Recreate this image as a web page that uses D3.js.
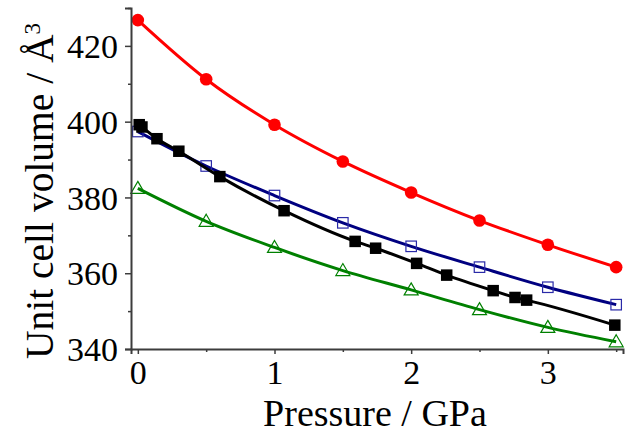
<!DOCTYPE html>
<html>
<head>
<meta charset="utf-8">
<script src="https://cdn.jsdelivr.net/npm/d3@7"></script>
<style>
  body { margin: 0; background: #fff; }
  svg { display: block; }
</style>
</head>
<body>
<div id="chart"></div>
<script>
// data (pressure in GPa, volume in Å^3)
const redP = [0, 0.5, 1, 1.5, 2, 2.5, 3, 3.5];
const redV = [426.8, 411.2, 399.2, 389.5, 381.3, 373.9, 367.5, 361.6];

const blueP = [0, 0.5, 1, 1.5, 2, 2.5, 3, 3.5];
const blueV = [397.4, 388.3, 380.5, 373.3, 367.1, 361.6, 356.3, 351.7];

const blackP = [0.01, 0.03, 0.14, 0.30, 0.60, 1.07, 1.59, 1.74, 2.04, 2.26, 2.60, 2.76, 2.845, 3.49];
const blackV = [399.2, 398.6, 395.5, 392.2, 385.5, 376.5, 368.4, 366.6, 362.6, 359.5, 355.4, 353.6, 352.9, 346.3];

const greenP = [0, 0.5, 1, 1.5, 2, 2.5, 3, 3.5];
const greenV = [382.4, 373.7, 366.8, 360.7, 355.6, 350.4, 345.7, 341.9];

const xTicks = [0, 1, 2, 3];
const xMinor = [0.5, 1.5, 2.5, 3.5];
const yTicks = [340, 360, 380, 400, 420];
const yMinor = [350, 370, 390, 410, 430];

const width = 625, height = 437;
const margin = { top: 8, right: 2, bottom: 88, left: 131 };
const FONT = "'Times New Roman', 'Liberation Serif', serif";

let svg = d3.select("#chart")
    .append("svg")
    .attr("width", width)
    .attr("height", height);

let x = d3.scaleLinear()
    .domain([-0.05, 3.55])
    .range([margin.left, width - margin.right]);

let y = d3.scaleLinear()
    .domain([340, 430])
    .range([height - margin.bottom, margin.top]);

function zip(ps, vs) {
    return ps.map(function (p, i) { return { p: p, v: vs[i] }; });
}

let series = [
    { data: zip(blueP, blueV), color: "#000080", mark: "osquare", mcolor: "#2a2aa8" },
    { data: zip(greenP, greenV), color: "#008000", mark: "otri", mcolor: "#008000" },
    { data: zip(blackP, blackV), color: "#000000", mark: "square", mcolor: "#000000" },
    { data: zip(redP, redV), color: "#ff0000", mark: "circle", mcolor: "#ff0000" }
];

let line = d3.line()
    .x(function (d) { return x(d.p); })
    .y(function (d) { return y(d.v); })
    .curve(d3.curveMonotoneX);

series.forEach(function (s) {
    let g = svg.append("g");
    g.append("path")
        .datum(s.data)
        .attr("fill", "none")
        .attr("stroke", s.color)
        .attr("stroke-width", 3)
        .attr("d", line);

    if (s.mark === "circle") {
        g.selectAll("circle").data(s.data).enter()
            .append("circle")
            .attr("cx", function (d) { return x(d.p); })
            .attr("cy", function (d) { return y(d.v); })
            .attr("r", 6.3)
            .attr("fill", s.mcolor);
    } else if (s.mark === "square" || s.mark === "osquare") {
        let sz = s.mark === "square" ? 11.5 : 10.5;
        g.selectAll("rect").data(s.data).enter()
            .append("rect")
            .attr("x", function (d) { return x(d.p) - sz / 2; })
            .attr("y", function (d) { return y(d.v) - sz / 2; })
            .attr("width", sz)
            .attr("height", sz)
            .attr("fill", s.mark === "square" ? s.mcolor : "none")
            .attr("stroke", s.mcolor)
            .attr("stroke-width", s.mark === "square" ? 0 : 1.2);
    } else {
        g.selectAll("path.m").data(s.data).enter()
            .append("path")
            .attr("class", "m")
            .attr("d", function (d) {
                let cx = x(d.p), cy = y(d.v);
                return `M${cx},${cy - 7}L${cx + 7},${cy + 5}L${cx - 7},${cy + 5}Z`;
            })
            .attr("fill", "none")
            .attr("stroke", s.mcolor)
            .attr("stroke-width", 1.2);
    }
});

// axes
let axisColor = "#3c3c3c";

let xAxis = svg.append("g")
    .attr("transform", `translate(0, ${height - margin.bottom})`)
    .call(d3.axisBottom(x).tickValues(xTicks).tickSize(5).tickPadding(6).tickFormat(d3.format("d")));
svg.append("g")
    .attr("transform", `translate(0, ${height - margin.bottom})`)
    .call(d3.axisBottom(x).tickValues(xMinor).tickSize(3).tickFormat(""))
    .call(function (g) { g.select(".domain").remove(); });

let yAxis = svg.append("g")
    .attr("transform", `translate(${margin.left}, 0)`)
    .call(d3.axisLeft(y).tickValues(yTicks).tickSize(6).tickPadding(7));
svg.append("g")
    .attr("transform", `translate(${margin.left}, 0)`)
    .call(d3.axisLeft(y).tickValues(yMinor).tickSize(3).tickFormat(""))
    .call(function (g) { g.select(".domain").remove(); });

svg.selectAll(".domain").attr("stroke", axisColor).attr("stroke-width", 2);
svg.selectAll(".tick line").attr("stroke", axisColor).attr("stroke-width", 1.5);
svg.selectAll(".tick text")
    .attr("fill", "#000")
    .style("font-family", FONT)
    .style("font-size", "34px");
xAxis.selectAll(".tick text").attr("dy", "0.71em");
yAxis.selectAll(".tick text").attr("dy", "0.34em");

// x-axis label
svg.append("text")
    .attr("x", 375)
    .attr("y", 426)
    .style("text-anchor", "middle")
    .style("font-family", FONT)
    .style("font-size", "38px")
    .text("Pressure / GPa");

// y-axis label
let yl = svg.append("text")
    .attr("transform", "translate(53, 191) rotate(-90)")
    .style("text-anchor", "middle")
    .style("font-family", FONT)
    .style("font-size", "39.5px");
yl.append("tspan").text("Unit cell volume / Å");
yl.append("tspan").attr("dy", "-0.55em").style("font-size", "23px").text("3");
</script>
</body>
</html>
